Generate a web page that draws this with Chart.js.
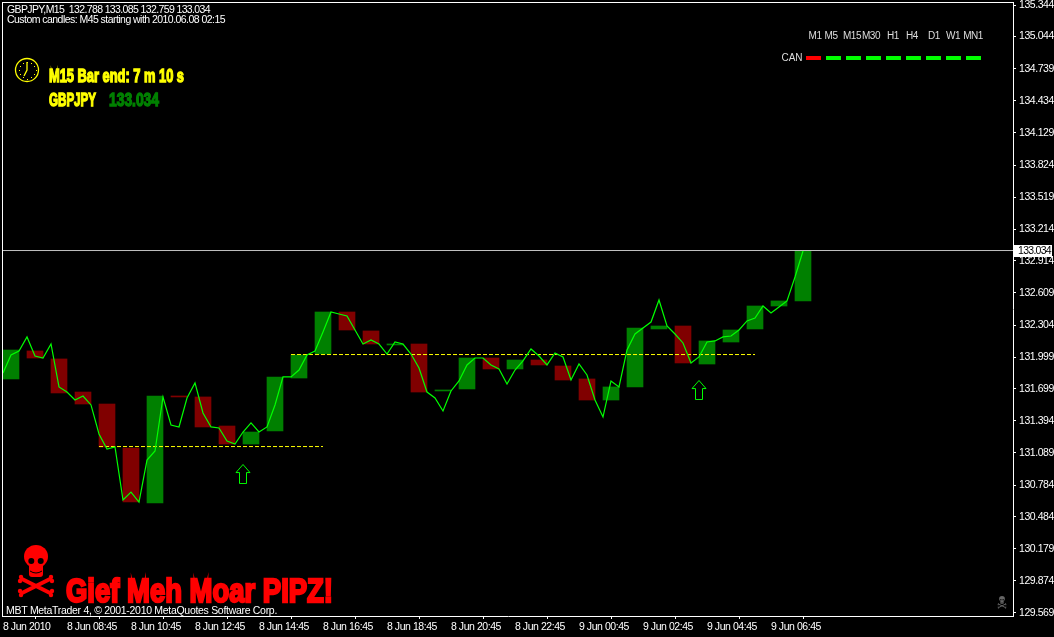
<!DOCTYPE html>
<html>
<head>
<meta charset="utf-8">
<title>GBPJPY M15</title>
<script src="https://cdn.jsdelivr.net/npm/chart.js@4/dist/chart.umd.min.js"></script>
<style>
    html, body { margin: 0; padding: 0; background: #000; overflow: hidden; }
    canvas { display: block; }
</style>
</head>
<body>
<canvas id="fx_chart" width="1054" height="637"></canvas>
<script>
// Tick labels
const priceTicks = [135.344, 135.044, 134.739, 134.434, 134.129, 133.824, 133.519, 133.214, 132.914, 132.609,
    132.304, 131.999, 131.699, 131.394, 131.089, 130.784, 130.484, 130.179, 129.874, 129.569];
const timeTicks = [0, 8, 16, 24, 32, 40, 48, 56, 64, 72, 80, 88, 96];
const timeLabels = ['8 Jun 2010', '8 Jun 08:45', '8 Jun 10:45', '8 Jun 12:45', '8 Jun 14:45', '8 Jun 16:45',
    '8 Jun 18:45', '8 Jun 20:45', '8 Jun 22:45', '9 Jun 00:45', '9 Jun 02:45', '9 Jun 04:45', '9 Jun 06:45'];

// M45 custom candles
const candleOpen = [131.792, 132.058, 131.982, 131.668, 131.554, 131.136, 130.614, 131.630, 131.621, 131.345,
    131.174, 131.298, 131.801, 132.029, 132.428, 132.248, 132.115, 132.124, 131.678, 131.697,
    131.991, 131.887, 131.972, 131.915, 131.792, 131.592, 131.716, 132.267, 132.295, 131.934,
    132.143, 132.267, 132.485, 132.533];
const candleClose = [132.067, 131.991, 131.659, 131.554, 131.146, 130.623, 131.630, 131.621, 131.336, 131.174,
    131.288, 131.811, 132.020, 132.428, 132.257, 132.124, 132.124, 131.668, 131.687, 131.991,
    131.887, 131.972, 131.925, 131.782, 131.592, 131.716, 132.276, 132.295, 131.944, 132.153,
    132.257, 132.485, 132.533, 133.007];

// M15 close line
const closeLine = [131.849, 132.020, 132.058, 132.191, 132.010, 131.991, 132.124, 131.716, 131.668, 131.592,
    131.630, 131.545, 131.269, 131.127, 131.146, 130.642, 130.718, 130.623, 131.022, 131.108,
    131.621, 131.355, 131.336, 131.611, 131.754, 131.469, 131.336, 131.326, 131.203, 131.174,
    131.288, 131.374, 131.288, 131.336, 131.545, 131.811, 131.811, 131.877, 132.020, 132.058,
    132.238, 132.428, 132.409, 132.390, 132.257, 132.124, 132.162, 132.124, 132.029, 132.143,
    132.124, 132.029, 131.896, 131.668, 131.611, 131.488, 131.678, 131.773, 131.925, 131.991,
    131.991, 131.925, 131.887, 131.744, 131.877, 131.963, 132.077, 132.010, 131.925, 132.039,
    132.001, 131.782, 131.934, 131.830, 131.592, 131.431, 131.773, 131.716, 132.067, 132.219,
    132.276, 132.333, 132.542, 132.295, 132.219, 132.134, 131.944, 132.001, 132.143, 132.153,
    132.191, 132.200, 132.257, 132.343, 132.371, 132.485, 132.419, 132.476, 132.533, 132.761,
    133.007];

// Yellow levels, arrows and last price
const levelOneX = [12, 40];
const levelOnePrice = 131.150;
const levelTwoX = [36, 94];
const levelTwoPrice = 132.024;
const arrowX = [30, 87];
const arrowPrice = [130.889, 131.687];
const lastPriceLevel = 133.012;
const lastPriceLabel = '133.034';

// Overlay text
const headerLine = 'GBPJPY,M15  132.788 133.085 132.759 133.034';
const customLine = 'Custom candles: M45 starting with 2010.06.08 02:15';
const footerLine = 'MBT MetaTrader 4, © 2001-2010 MetaQuotes Software Corp.';
const timerText = 'M15 Bar end: 7 m 10 s';
const symbolText = 'GBPJPY';
const bannerText = 'Gief Meh Moar PIPZ!';
const timeframes = ['M1', 'M5', 'M15', 'M30', 'H1', 'H4', 'D1', 'W1', 'MN1'];
const timeframeUp = [false, true, true, true, true, true, true, true, true];

const UI_FONT = '"Liberation Sans"';
const GREEN = 'rgb(0,128,0)';
const RED = 'rgb(128,0,0)';

// Hollow up arrow used as point image
function makeArrow() {
    const c = document.createElement('canvas');
    c.width = 16;
    c.height = 20;
    const g = c.getContext('2d');
    g.strokeStyle = '#00ff00';
    g.lineWidth = 1;
    g.beginPath();
    g.moveTo(8, 0.5);
    g.lineTo(15, 8.5);
    g.lineTo(11.5, 8.5);
    g.lineTo(11.5, 19.5);
    g.lineTo(4.5, 19.5);
    g.lineTo(4.5, 8.5);
    g.lineTo(1, 8.5);
    g.closePath();
    g.stroke();
    return c;
}

// Plain text with letter spacing worked out to fill the width
function fitText(ctx, text, x, y, width) {
    ctx.letterSpacing = '0px';
    const w = ctx.measureText(text).width;
    ctx.letterSpacing = ((width - w) / text.length) + 'px';
    ctx.fillText(text, x, y);
    ctx.letterSpacing = '0px';
}

// Heavy condensed text, squeezed to the given width
function heavyText(ctx, text, x, y, size, width, color, weight) {
    ctx.save();
    ctx.font = 'bold ' + size + 'px "Liberation Sans"';
    const w = ctx.measureText(text).width;
    ctx.translate(x, y);
    ctx.scale(width / w, 1);
    ctx.fillStyle = color;
    ctx.strokeStyle = color;
    ctx.lineWidth = weight;
    ctx.textBaseline = 'alphabetic';
    ctx.strokeText(text, 0, 0);
    ctx.fillText(text, 0, 0);
    ctx.restore();
}

function drawClock(ctx, cx, cy, r) {
    ctx.save();
    ctx.strokeStyle = '#ffff00';
    ctx.fillStyle = '#ffff00';
    ctx.lineWidth = 1.3;
    ctx.beginPath();
    ctx.arc(cx, cy, r, 0, Math.PI * 2);
    ctx.stroke();
    for (let h = 0; h < 12; h++) {
        const a = h * Math.PI / 6;
        ctx.fillRect(Math.round(cx + Math.sin(a) * (r - 3)), Math.round(cy - Math.cos(a) * (r - 3)), 1, 1);
    }
    ctx.beginPath();
    ctx.moveTo(cx, cy - 8);
    ctx.lineTo(cx, cy);
    ctx.lineTo(cx - 3, cy + 6);
    ctx.stroke();
    ctx.restore();
}

// Skull and crossbones logo, cx is the centre, top the highest point, s the scale
function drawSkull(ctx, cx, top, s, color) {
    ctx.save();
    ctx.translate(cx, top);
    ctx.scale(s, s);
    ctx.fillStyle = color;
    ctx.strokeStyle = color;
    ctx.beginPath();
    ctx.ellipse(0, 11.5, 12, 11.5, 0, 0, Math.PI * 2);
    ctx.fill();
    ctx.beginPath();
    ctx.roundRect(-7, 18, 14, 14, 3);
    ctx.fill();
    ctx.lineCap = 'round';
    ctx.lineWidth = 4;
    ctx.beginPath();
    ctx.moveTo(-14, 34);
    ctx.lineTo(14, 48);
    ctx.moveTo(14, 34);
    ctx.lineTo(-14, 48);
    ctx.stroke();
    [[-15, 32], [-16, 36], [15, 32], [16, 36], [-16, 46], [-15, 50], [16, 46], [15, 50]].forEach(p => {
        ctx.beginPath();
        ctx.arc(p[0], p[1], 2.2, 0, Math.PI * 2);
        ctx.fill();
    });
    ctx.fillStyle = '#000';
    ctx.beginPath();
    ctx.ellipse(-4.7, 16, 3, 3, 0, 0, Math.PI * 2);
    ctx.ellipse(4.7, 16, 3, 3, 0, 0, Math.PI * 2);
    ctx.fill();
    ctx.strokeStyle = '#000';
    ctx.lineWidth = 1;
    ctx.lineCap = 'butt';
    ctx.beginPath();
    ctx.moveTo(-6, 26);
    ctx.quadraticCurveTo(0, 30, 6, 26);
    ctx.stroke();
    ctx.restore();
}

const overlayPlugin = {
    id: 'overlay',
    beforeDraw(chart) {
        // tick labels are narrower than the installed fonts
        chart.ctx.letterSpacing = '-0.45px';
    },
    afterDraw(chart) {
        const ctx = chart.ctx;
        const y = chart.scales.y;
        ctx.letterSpacing = '0px';
        ctx.save();

        // frame, left and top sides
        ctx.fillStyle = '#fff';
        ctx.fillRect(2, 2, 1011, 1);
        ctx.fillRect(2, 2, 1, 615);

        // header
        ctx.textBaseline = 'middle';
        ctx.textAlign = 'left';
        ctx.font = '10.5px ' + UI_FONT;
        ctx.fillStyle = '#fff';
        fitText(ctx, headerLine, 7, 10, 203);
        fitText(ctx, customLine, 7, 20, 218);
        fitText(ctx, footerLine, 6, 611, 271);

        // timer block
        drawClock(ctx, 27, 70, 11.5);
        heavyText(ctx, timerText, 49, 82, 17.5, 135, '#ffff00', 1.3);
        heavyText(ctx, symbolText, 49, 106, 17.5, 47, '#ffff00', 1.3);
        heavyText(ctx, lastPriceLabel, 109, 106, 17.5, 50, GREEN, 1.3);

        // banner with the skull
        heavyText(ctx, bannerText, 66, 602, 33, 267, '#ff0000', 2.4);
        drawSkull(ctx, 36, 545, 1, '#ff0000');
        drawSkull(ctx, 1002, 596, 0.24, '#666');

        // timeframe strip
        const labelX = [815, 831, 852, 871, 893, 912, 934, 953, 973];
        ctx.font = '10px ' + UI_FONT;
        ctx.textBaseline = 'middle';
        ctx.textAlign = 'center';
        ctx.fillStyle = '#ddd';
        ctx.letterSpacing = '-0.5px';
        timeframes.forEach((name, i) => ctx.fillText(name, labelX[i], 36));
        ctx.letterSpacing = '0px';
        ctx.fillText('CAN', 792, 58);
        timeframeUp.forEach((up, i) => {
            ctx.fillStyle = up ? '#00ff00' : '#ff0000';
            ctx.fillRect(806 + i * 20, 56, 15, 4);
        });

        // last price box on the axis
        const py = Math.round(y.getPixelForValue(lastPriceLevel));
        ctx.fillStyle = '#fff';
        ctx.fillRect(1014, py - 6, 38, 12);
        ctx.fillStyle = '#000';
        ctx.textAlign = 'left';
        ctx.font = '10.5px ' + UI_FONT;
        fitText(ctx, lastPriceLabel, 1018, py, 33);
        ctx.restore();
    }
};

const candleData = candleOpen.map((open, i) => ({ x: 3 * i + 1, y: [open, candleClose[i]] }));
const candleColors = candleOpen.map((open, i) => (candleClose[i] >= open ? GREEN : RED));

new Chart(document.getElementById('fx_chart').getContext('2d'), {
    type: 'bar',
    data: {
        datasets: [
            {
                type: 'line',
                data: closeLine.map((v, i) => ({ x: i, y: v })),
                borderColor: '#00ff00',
                borderWidth: 1.2,
                pointRadius: 0,
                tension: 0,
                order: 1
            },
            {
                type: 'line',
                data: levelOneX.map(x => ({ x: x, y: levelOnePrice })),
                borderColor: '#ffff00',
                borderWidth: 1,
                borderDash: [4, 2],
                pointRadius: 0,
                order: 2
            },
            {
                type: 'line',
                data: levelTwoX.map(x => ({ x: x, y: levelTwoPrice })),
                borderColor: '#ffff00',
                borderWidth: 1,
                borderDash: [4, 2],
                pointRadius: 0,
                order: 2
            },
            {
                type: 'line',
                data: [{ x: 0, y: lastPriceLevel }, { x: 126.25, y: lastPriceLevel }],
                borderColor: '#c0c0c0',
                borderWidth: 1,
                pointRadius: 0,
                order: 3
            },
            {
                type: 'scatter',
                data: arrowX.map((x, i) => ({ x: x, y: arrowPrice[i] })),
                pointStyle: makeArrow(),
                order: 0
            },
            {
                type: 'bar',
                data: candleData,
                backgroundColor: candleColors,
                barThickness: 16,
                minBarLength: 1,
                borderWidth: 0,
                order: 4
            }
        ]
    },
    plugins: [overlayPlugin],
    options: {
        responsive: false,
        animation: false,
        events: [],
        layout: { autoPadding: false, padding: { left: 3, top: 2, right: 0, bottom: 0 } },
        plugins: { legend: { display: false }, tooltip: { enabled: false } },
        scales: {
            x: {
                type: 'linear',
                offset: false,
                min: 0,
                max: 126.25,
                afterFit(scale) {
                    scale.height = 21;
                    scale.paddingLeft = 0;
                    scale.paddingRight = 0;
                },
                afterBuildTicks(scale) { scale.ticks = timeTicks.map(v => ({ value: v })); },
                border: { color: '#fff' },
                grid: { drawOnChartArea: false, color: '#fff', tickLength: 3 },
                ticks: {
                    color: '#fff',
                    align: 'start',
                    maxRotation: 0,
                    autoSkip: false,
                    padding: 2,
                    font: { family: 'Liberation Sans', size: 10.5 },
                    callback: value => timeLabels[timeTicks.indexOf(value)]
                }
            },
            y: {
                position: 'right',
                min: 129.5405,
                max: 135.3725,
                afterFit(scale) {
                    scale.width = 41;
                    scale.paddingTop = 0;
                    scale.paddingBottom = 0;
                },
                afterBuildTicks(scale) { scale.ticks = priceTicks.map(v => ({ value: v })); },
                border: { color: '#fff' },
                grid: { drawOnChartArea: false, color: '#fff', tickLength: 3 },
                ticks: {
                    color: '#fff',
                    autoSkip: false,
                    padding: 3,
                    font: { family: 'Liberation Sans', size: 10.5 },
                    callback: value => value.toFixed(3)
                }
            }
        }
    }
});
</script>
</body>
</html>
